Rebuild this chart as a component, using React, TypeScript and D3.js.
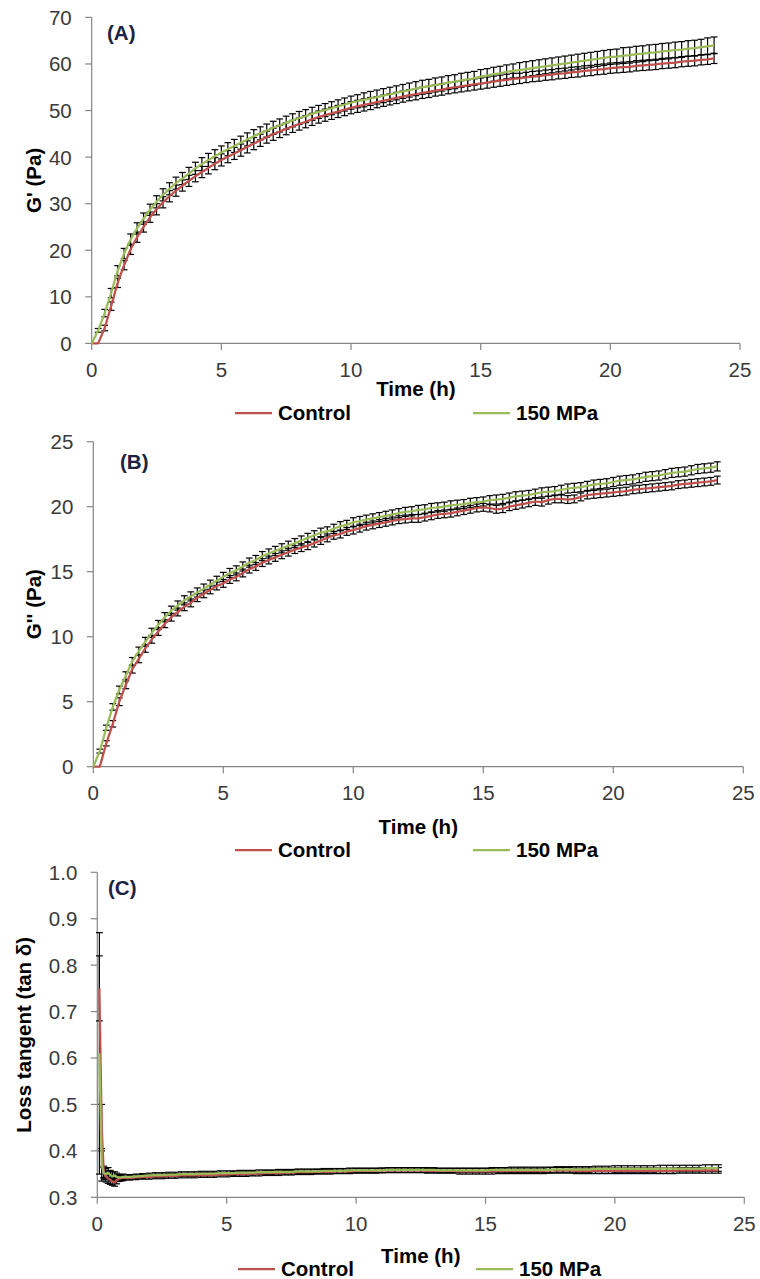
import React from "react";
import * as d3 from "d3";

// ---------- DATA ----------
const TIME = [
  0, 0.25, 0.5, 0.75,
  1, 1.25, 1.5, 1.75,
  2, 2.25, 2.5, 2.75,
  3, 3.25, 3.5, 3.75,
  4, 4.25, 4.5, 4.75,
  5, 5.25, 5.5, 5.75,
  6, 6.25, 6.5, 6.75,
  7, 7.25, 7.5, 7.75,
  8, 8.25, 8.5, 8.75,
  9, 9.25, 9.5, 9.75,
  10, 10.25, 10.5, 10.75,
  11, 11.25, 11.5, 11.75,
  12, 12.25, 12.5, 12.75,
  13, 13.25, 13.5, 13.75,
  14, 14.25, 14.5, 14.75,
  15, 15.25, 15.5, 15.75,
  16, 16.25, 16.5, 16.75,
  17, 17.25, 17.5, 17.75,
  18, 18.25, 18.5, 18.75,
  19, 19.25, 19.5, 19.75,
  20, 20.25, 20.5, 20.75,
  21, 21.25, 21.5, 21.75,
  22, 22.25, 22.5, 22.75,
  23, 23.25, 23.5, 23.75,
  24,
];

// Panel A: G' (Pa)
const A_CONTROL = [
  0, 0, 3.3, 8.0,
  13.0, 16.8, 20.2, 22.8,
  25.0, 27.1, 28.8, 30.3,
  31.6, 32.8, 33.9, 34.9,
  35.9, 36.8, 37.7, 38.6,
  39.4, 40.1, 40.8, 41.5,
  42.2, 42.9, 43.6, 44.3,
  44.9, 45.5, 46.1, 46.6,
  47.1, 47.6, 48.1, 48.6,
  49.0, 49.4, 49.8, 50.2,
  50.6, 50.9, 51.2, 51.5,
  51.8, 52.1, 52.4, 52.7,
  53.0, 53.3, 53.5, 53.8,
  54.0, 54.3, 54.5, 54.8,
  55.0, 55.2, 55.4, 55.6,
  55.8, 56.0, 56.2, 56.4,
  56.6, 56.8, 56.9, 57.1,
  57.3, 57.4, 57.6, 57.7,
  57.9, 58.0, 58.2, 58.3,
  58.5, 58.6, 58.8, 58.9,
  59.1, 59.2, 59.3, 59.4,
  59.6, 59.7, 59.8, 59.9,
  60.1, 60.2, 60.3, 60.5,
  60.6, 60.7, 60.9, 61.0,
  61.2,
];
const A_CONTROL_SD = [
  0, 0, 0.6, 0.9,
  1.0, 1.0, 1.1, 1.1,
  1.1, 1.1, 1.2, 1.2,
  1.2, 1.2, 1.2, 1.2,
  1.2, 1.2, 1.3, 1.3,
  1.3, 1.3, 1.3, 1.3,
  1.3, 1.3, 1.3, 1.3,
  1.3, 1.3, 1.3, 1.3,
  1.3, 1.3, 1.3, 1.3,
  1.3, 1.3, 1.3, 1.3,
  1.3, 1.3, 1.3, 1.3,
  1.2, 1.2, 1.2, 1.2,
  1.2, 1.2, 1.2, 1.2,
  1.2, 1.2, 1.2, 1.2,
  1.2, 1.2, 1.2, 1.2,
  1.2, 1.2, 1.2, 1.2,
  1.2, 1.2, 1.1, 1.1,
  1.1, 1.1, 1.1, 1.1,
  1.1, 1.1, 1.1, 1.1,
  1.1, 1.1, 1.1, 1.1,
  1.1, 1.1, 1.1, 1.1,
  1.1, 1.1, 1.1, 1.1,
  1.1, 1.1, 1.1, 1.1,
  1.1, 1.1, 1.1, 1.1,
  1.1,
];
const A_150 = [
  0, 2.8, 6.5, 10.8,
  15.6, 19.3, 22.3, 24.7,
  26.8, 28.7, 30.4, 31.9,
  33.2, 34.4, 35.4, 36.5,
  37.6, 38.5, 39.4, 40.2,
  41.0, 41.7, 42.4, 43.1,
  43.8, 44.5, 45.1, 45.7,
  46.3, 46.8, 47.4, 47.9,
  48.4, 48.8, 49.3, 49.7,
  50.1, 50.5, 50.9, 51.3,
  51.7, 52.0, 52.3, 52.6,
  52.9, 53.2, 53.5, 53.8,
  54.1, 54.4, 54.7, 55.0,
  55.2, 55.5, 55.7, 56.0,
  56.2, 56.5, 56.7, 56.9,
  57.3, 57.5, 57.8, 58.0,
  58.3, 58.5, 58.7, 58.9,
  59.1, 59.3, 59.5, 59.7,
  59.9, 60.1, 60.3, 60.5,
  60.7, 60.9, 61.1, 61.3,
  61.5, 61.6, 61.8, 61.9,
  62.1, 62.2, 62.4, 62.5,
  62.7, 62.8, 63.0, 63.1,
  63.3, 63.4, 63.6, 63.8,
  64.0,
];
const A_150_SD = [
  0, 0.4, 0.8, 1.0,
  1.1, 1.1, 1.2, 1.2,
  1.2, 1.2, 1.3, 1.3,
  1.3, 1.3, 1.3, 1.3,
  1.3, 1.4, 1.4, 1.4,
  1.4, 1.4, 1.4, 1.4,
  1.4, 1.4, 1.4, 1.4,
  1.4, 1.4, 1.4, 1.4,
  1.4, 1.4, 1.4, 1.4,
  1.4, 1.4, 1.4, 1.4,
  1.4, 1.4, 1.5, 1.5,
  1.5, 1.5, 1.5, 1.5,
  1.5, 1.5, 1.5, 1.5,
  1.5, 1.5, 1.5, 1.5,
  1.5, 1.5, 1.5, 1.5,
  1.5, 1.5, 1.5, 1.5,
  1.5, 1.5, 1.6, 1.6,
  1.6, 1.6, 1.6, 1.6,
  1.6, 1.6, 1.6, 1.6,
  1.6, 1.6, 1.6, 1.6,
  1.6, 1.6, 1.7, 1.7,
  1.7, 1.7, 1.7, 1.7,
  1.7, 1.7, 1.7, 1.7,
  1.7, 1.7, 1.7, 1.8,
  1.8,
];

// Panel B: G'' (Pa)
const B_CONTROL = [
  0, 0, 1.8, 3.3,
  5.0, 6.3, 7.5, 8.3,
  9.1, 9.8, 10.4, 11.0,
  11.5, 11.9, 12.3, 12.6,
  13.0, 13.3, 13.6, 13.9,
  14.1, 14.4, 14.6, 14.9,
  15.2, 15.4, 15.7, 15.9,
  16.1, 16.3, 16.5, 16.7,
  16.85, 17.0, 17.2, 17.4,
  17.6, 17.8, 17.9, 18.1,
  18.2, 18.35, 18.5, 18.6,
  18.7, 18.8, 18.9, 19.0,
  19.05, 19.1, 19.1, 19.2,
  19.3, 19.4, 19.45, 19.5,
  19.6, 19.7, 19.8, 19.9,
  19.95, 19.9, 19.8, 19.85,
  20.0, 20.1, 20.2, 20.3,
  20.4, 20.35, 20.5, 20.6,
  20.6, 20.55, 20.6, 20.75,
  20.9, 20.95, 21.0, 21.05,
  21.1, 21.15, 21.2, 21.3,
  21.35, 21.4, 21.45, 21.5,
  21.55, 21.6, 21.7, 21.75,
  21.8, 21.85, 21.9, 21.95,
  22.05,
];
const B_CONTROL_SD = [
  0, 0, 0.2, 0.25,
  0.3, 0.3, 0.3, 0.3,
  0.3, 0.3, 0.3, 0.3,
  0.3, 0.3, 0.3, 0.3,
  0.3, 0.3, 0.3, 0.3,
  0.3, 0.3, 0.3, 0.3,
  0.3, 0.3, 0.3, 0.3,
  0.3, 0.3, 0.3, 0.3,
  0.3, 0.3, 0.3, 0.3,
  0.3, 0.3, 0.3, 0.3,
  0.3, 0.3, 0.3, 0.3,
  0.3, 0.3, 0.3, 0.3,
  0.3, 0.3, 0.3, 0.3,
  0.3, 0.3, 0.3, 0.3,
  0.3, 0.3, 0.3, 0.3,
  0.3, 0.3, 0.3, 0.3,
  0.3, 0.3, 0.3, 0.3,
  0.3, 0.3, 0.3, 0.3,
  0.3, 0.3, 0.3, 0.3,
  0.3, 0.3, 0.3, 0.3,
  0.3, 0.3, 0.3, 0.3,
  0.3, 0.3, 0.3, 0.3,
  0.3, 0.3, 0.3, 0.3,
  0.3, 0.3, 0.3, 0.3,
  0.3,
];
const B_150 = [
  0, 1.2, 3.0, 4.6,
  5.9, 7.0, 8.1, 8.9,
  9.6, 10.3, 10.9, 11.5,
  12.0, 12.4, 12.8, 13.1,
  13.4, 13.7, 14.0, 14.3,
  14.6, 14.9, 15.1, 15.4,
  15.7, 15.9, 16.2, 16.4,
  16.6, 16.8, 17.0, 17.2,
  17.4, 17.6, 17.8, 18.0,
  18.1, 18.3, 18.5, 18.6,
  18.8, 18.9, 19.0, 19.1,
  19.2, 19.3, 19.4, 19.5,
  19.6, 19.65, 19.75, 19.8,
  19.9, 19.95, 20.0, 20.1,
  20.15, 20.2, 20.3, 20.35,
  20.4, 20.5, 20.55, 20.6,
  20.7, 20.8, 20.85, 20.9,
  21.0, 21.1, 21.15, 21.2,
  21.3, 21.4, 21.45, 21.5,
  21.6, 21.7, 21.75, 21.8,
  21.9, 22.0, 22.05, 22.1,
  22.2, 22.3, 22.35, 22.4,
  22.5, 22.6, 22.65, 22.7,
  22.8, 22.9, 22.95, 23.0,
  23.1,
];
const B_150_SD = [
  0, 0.15, 0.2, 0.25,
  0.3, 0.3, 0.3, 0.3,
  0.35, 0.35, 0.35, 0.35,
  0.35, 0.35, 0.35, 0.35,
  0.35, 0.35, 0.35, 0.35,
  0.35, 0.35, 0.35, 0.35,
  0.35, 0.35, 0.35, 0.35,
  0.35, 0.35, 0.35, 0.35,
  0.35, 0.35, 0.35, 0.35,
  0.35, 0.35, 0.35, 0.35,
  0.35, 0.35, 0.35, 0.35,
  0.35, 0.35, 0.35, 0.35,
  0.35, 0.35, 0.35, 0.35,
  0.35, 0.35, 0.35, 0.35,
  0.35, 0.35, 0.35, 0.35,
  0.35, 0.35, 0.35, 0.35,
  0.35, 0.35, 0.35, 0.35,
  0.35, 0.35, 0.35, 0.35,
  0.35, 0.35, 0.35, 0.35,
  0.35, 0.35, 0.35, 0.35,
  0.35, 0.35, 0.35, 0.35,
  0.35, 0.35, 0.35, 0.35,
  0.35, 0.35, 0.35, 0.35,
  0.35, 0.35, 0.35, 0.35,
  0.35,
];

// Panel C: loss tangent
const C_TIME = [
  0.08, 0.17, 0.25, 0.33, 0.42, 0.5, 0.58, 0.67, 0.75, 0.83, 0.92,
  1, 1.25, 1.5, 1.75,
  2, 2.25, 2.5, 2.75,
  3, 3.25, 3.5, 3.75,
  4, 4.25, 4.5, 4.75,
  5, 5.25, 5.5, 5.75,
  6, 6.25, 6.5, 6.75,
  7, 7.25, 7.5, 7.75,
  8, 8.25, 8.5, 8.75,
  9, 9.25, 9.5, 9.75,
  10, 10.25, 10.5, 10.75,
  11, 11.25, 11.5, 11.75,
  12, 12.25, 12.5, 12.75,
  13, 13.25, 13.5, 13.75,
  14, 14.25, 14.5, 14.75,
  15, 15.25, 15.5, 15.75,
  16, 16.25, 16.5, 16.75,
  17, 17.25, 17.5, 17.75,
  18, 18.25, 18.5, 18.75,
  19, 19.25, 19.5, 19.75,
  20, 20.25, 20.5, 20.75,
  21, 21.25, 21.5, 21.75,
  22, 22.25, 22.5, 22.75,
  23, 23.25, 23.5, 23.75,
  24,
];
const C_CONTROL = [
  0.75, 0.45, 0.355, 0.345, 0.34, 0.338, 0.334, 0.332, 0.337, 0.34, 0.341,
  0.342, 0.342, 0.343, 0.344,
  0.344, 0.345, 0.345, 0.346,
  0.346, 0.347, 0.347, 0.347,
  0.348, 0.348, 0.348, 0.349,
  0.349, 0.350, 0.350, 0.350,
  0.351, 0.351, 0.352, 0.352,
  0.352, 0.353, 0.353, 0.354,
  0.354, 0.354, 0.355, 0.355,
  0.355, 0.356, 0.356, 0.356,
  0.357, 0.357, 0.357, 0.357,
  0.358, 0.358, 0.358, 0.358,
  0.358, 0.358, 0.358, 0.357,
  0.357, 0.357, 0.357, 0.357,
  0.356, 0.356, 0.356, 0.356,
  0.356, 0.356, 0.357, 0.357,
  0.357, 0.357, 0.357, 0.357,
  0.357, 0.357, 0.358, 0.358,
  0.358, 0.358, 0.357, 0.357,
  0.357, 0.357, 0.357, 0.357,
  0.357, 0.357, 0.357, 0.357,
  0.357, 0.357, 0.357, 0.357,
  0.357, 0.357, 0.358, 0.358,
  0.358, 0.358, 0.358, 0.358,
  0.358,
];
const C_CONTROL_SD = [
  0.07, 0.05, 0.012, 0.012, 0.01, 0.01, 0.008, 0.008, 0.008, 0.006, 0.006,
  0.006, 0.005, 0.005, 0.005,
  0.005, 0.005, 0.005, 0.005,
  0.005, 0.005, 0.005, 0.005,
  0.005, 0.005, 0.005, 0.005,
  0.005, 0.005, 0.005, 0.005,
  0.005, 0.005, 0.005, 0.005,
  0.005, 0.005, 0.005, 0.005,
  0.005, 0.005, 0.005, 0.005,
  0.005, 0.005, 0.005, 0.005,
  0.005, 0.005, 0.005, 0.005,
  0.005, 0.005, 0.005, 0.005,
  0.005, 0.005, 0.005, 0.005,
  0.005, 0.005, 0.005, 0.005,
  0.006, 0.006, 0.006, 0.006,
  0.006, 0.006, 0.006, 0.006,
  0.006, 0.006, 0.006, 0.006,
  0.006, 0.006, 0.006, 0.006,
  0.006, 0.006, 0.006, 0.006,
  0.006, 0.006, 0.006, 0.006,
  0.006, 0.006, 0.006, 0.006,
  0.006, 0.006, 0.006, 0.006,
  0.006, 0.006, 0.006, 0.006,
  0.006, 0.006, 0.006, 0.006,
  0.006,
];
const C_150 = [
  0.61, 0.37, 0.352, 0.35, 0.352, 0.348, 0.345, 0.347, 0.344, 0.343, 0.343,
  0.344, 0.344, 0.345, 0.346,
  0.347, 0.348, 0.348, 0.349,
  0.349, 0.350, 0.350, 0.350,
  0.351, 0.351, 0.351, 0.352,
  0.352, 0.352, 0.353, 0.353,
  0.353, 0.354, 0.354, 0.354,
  0.355, 0.355, 0.355, 0.356,
  0.356, 0.356, 0.356, 0.357,
  0.357, 0.357, 0.357, 0.358,
  0.358, 0.358, 0.358, 0.358,
  0.358, 0.359, 0.359, 0.359,
  0.359, 0.359, 0.359, 0.359,
  0.359, 0.358, 0.358, 0.358,
  0.358, 0.358, 0.358, 0.358,
  0.358, 0.359, 0.359, 0.359,
  0.359, 0.359, 0.359, 0.359,
  0.359, 0.359, 0.359, 0.360,
  0.360, 0.360, 0.360, 0.360,
  0.360, 0.361, 0.361, 0.361,
  0.361, 0.361, 0.361, 0.361,
  0.361, 0.361, 0.361, 0.362,
  0.362, 0.362, 0.362, 0.362,
  0.362, 0.362, 0.363, 0.363,
  0.363,
];
const C_150_SD = [
  0.26, 0.035, 0.012, 0.012, 0.012, 0.01, 0.01, 0.008, 0.008, 0.006, 0.006,
  0.006, 0.005, 0.005, 0.005,
  0.005, 0.005, 0.005, 0.005,
  0.005, 0.005, 0.005, 0.005,
  0.005, 0.005, 0.005, 0.005,
  0.005, 0.005, 0.005, 0.005,
  0.005, 0.005, 0.005, 0.005,
  0.005, 0.005, 0.005, 0.005,
  0.005, 0.005, 0.005, 0.005,
  0.005, 0.005, 0.005, 0.005,
  0.005, 0.005, 0.005, 0.005,
  0.005, 0.005, 0.005, 0.005,
  0.005, 0.005, 0.005, 0.005,
  0.005, 0.005, 0.005, 0.005,
  0.005, 0.005, 0.005, 0.005,
  0.005, 0.005, 0.005, 0.005,
  0.006, 0.006, 0.006, 0.006,
  0.006, 0.006, 0.006, 0.006,
  0.006, 0.006, 0.006, 0.006,
  0.006, 0.006, 0.006, 0.006,
  0.007, 0.007, 0.007, 0.007,
  0.007, 0.007, 0.007, 0.007,
  0.007, 0.007, 0.007, 0.007,
  0.007, 0.007, 0.007, 0.007,
  0.007,
];

const X_TICKS = [0, 5, 10, 15, 20, 25];
const A_Y_TICKS = [0, 10, 20, 30, 40, 50, 60, 70];
const B_Y_TICKS = [0, 5, 10, 15, 20, 25];
const C_Y_TICKS = [0.3, 0.4, 0.5, 0.6, 0.7, 0.8, 0.9, 1.0];
const SERIES_NAMES = ["Control", "150 MPa"];
const X_TITLE = "Time (h)";

// ---------- STYLE ----------
const RED = "#C0504D";
const GREEN = "#9BBB59";
const AXIS = "#868686";
const FONT = "'Liberation Sans', Arial, Helvetica, sans-serif";

type Series = { times: number[]; values: number[]; sd: number[]; color: string };

type PanelCfg = {
  xRange: [number, number];
  yDomain: [number, number];
  yRange: [number, number];
  yTicks: number[];
  yFmt: (v: number) => string;
  yTitle: string;
  yTitleX: number;
  label: string;
  labelX: number;
  labelY: number;
  xTitleY: number;
  legendY: number;
  legendDX: number;
  series: Series[];
};

function Panel({ cfg }: { cfg: PanelCfg }) {
  const x = d3.scaleLinear().domain([0, 25]).range(cfg.xRange);
  const y = d3.scaleLinear().domain(cfg.yDomain).range(cfg.yRange);
  const x0 = cfg.xRange[0];
  const yBase = cfg.yRange[0];
  const yTop = cfg.yRange[1];
  const xMid = (cfg.xRange[0] + cfg.xRange[1]) / 2;
  const yMid = (cfg.yRange[0] + cfg.yRange[1]) / 2;
  const pathFor = (s: Series) =>
    d3
      .line<number>()
      .x((_, i) => x(s.times[i]))
      .y((v) => y(v))(s.values) || "";
  const cap = 3.4;
  return (
    <g>
      {/* axes */}
      <line x1={x0} x2={x0} y1={yBase} y2={yTop} stroke={AXIS} strokeWidth={1.2} />
      <line x1={x0} x2={cfg.xRange[1]} y1={yBase} y2={yBase} stroke={AXIS} strokeWidth={1.2} />
      {cfg.yTicks.map((t) => (
        <g key={"yt" + t}>
          <line x1={x0 - 6.5} x2={x0} y1={y(t)} y2={y(t)} stroke={AXIS} strokeWidth={1.2} />
          <text
            x={x0 - 20}
            y={y(t) + 7.4}
            textAnchor="end"
            fontFamily={FONT}
            fontSize={20.5}
            fill="#3a3a3a"
          >
            {cfg.yFmt(t)}
          </text>
        </g>
      ))}
      {X_TICKS.map((t) => (
        <g key={"xt" + t}>
          <line x1={x(t)} x2={x(t)} y1={yBase} y2={yBase + 6.5} stroke={AXIS} strokeWidth={1.2} />
          <text
            x={x(t)}
            y={yBase + 33.5}
            textAnchor="middle"
            fontFamily={FONT}
            fontSize={20.5}
            fill="#3a3a3a"
          >
            {t}
          </text>
        </g>
      ))}
      {/* error bars */}
      {cfg.series.map((s, si) => (
        <g key={"eb" + si} stroke="#000" strokeWidth={1.2}>
          {s.values.map((v, i) => {
            const e = s.sd[i];
            if (!e) return null;
            const px = x(s.times[i]);
            const yl = y(v - e);
            const yh = y(v + e);
            return (
              <g key={i}>
                <line x1={px} x2={px} y1={yl} y2={yh} />
                <line x1={px - cap} x2={px + cap} y1={yl} y2={yl} />
                <line x1={px - cap} x2={px + cap} y1={yh} y2={yh} />
              </g>
            );
          })}
        </g>
      ))}
      {/* lines */}
      {cfg.series.map((s, si) => (
        <path key={"ln" + si} d={pathFor(s)} fill="none" stroke={s.color} strokeWidth={2.25} strokeLinejoin="round" />
      ))}
      {/* titles */}
      <text
        x={xMid}
        y={cfg.xTitleY}
        textAnchor="middle"
        fontFamily={FONT}
        fontSize={20.5}
        fontWeight="bold"
        fill="#000"
      >
        {X_TITLE}
      </text>
      <text
        transform={`translate(${cfg.yTitleX},${yMid}) rotate(-90)`}
        textAnchor="middle"
        fontFamily={FONT}
        fontSize={20.5}
        fontWeight="bold"
        fill="#000"
      >
        {cfg.yTitle}
      </text>
      <text
        x={cfg.labelX}
        y={cfg.labelY}
        fontFamily={FONT}
        fontSize={20.5}
        fontWeight="bold"
        fill="#1c2340"
      >
        {cfg.label}
      </text>
      {/* legend */}
      {SERIES_NAMES.map((n, i) => {
        const lx = 235 + cfg.legendDX + i * 238;
        return (
          <g key={"lg" + i}>
            <line
              x1={lx}
              x2={lx + 37}
              y1={cfg.legendY}
              y2={cfg.legendY}
              stroke={cfg.series[i].color}
              strokeWidth={2.25}
            />
            <text
              x={lx + 43}
              y={cfg.legendY + 7.4}
              fontFamily={FONT}
              fontSize={20.5}
              fontWeight="bold"
              fill="#000"
            >
              {n}
            </text>
          </g>
        );
      })}
    </g>
  );
}

const fmtInt = (v: number) => d3.format("d")(v);
const fmt1 = (v: number) => d3.format(".1f")(v);

export default function App() {
  const panels: PanelCfg[] = [
    {
      xRange: [91.7, 740],
      yDomain: [0, 70],
      yRange: [343.4, 17.4],
      yTicks: A_Y_TICKS,
      yFmt: fmtInt,
      yTitle: "G' (Pa)",
      yTitleX: 41,
      label: "(A)",
      labelX: 107,
      labelY: 39.5,
      xTitleY: 396,
      legendY: 413,
      legendDX: 0,
      series: [
        { times: TIME, values: A_CONTROL, sd: A_CONTROL_SD, color: RED },
        { times: TIME, values: A_150, sd: A_150_SD, color: GREEN },
      ],
    },
    {
      xRange: [93.3, 743.3],
      yDomain: [0, 25],
      yRange: [766.7, 441.7],
      yTicks: B_Y_TICKS,
      yFmt: fmtInt,
      yTitle: "G'' (Pa)",
      yTitleX: 41,
      label: "(B)",
      labelX: 120,
      labelY: 469,
      xTitleY: 834,
      legendY: 850,
      legendDX: 0,
      series: [
        { times: TIME, values: B_CONTROL, sd: B_CONTROL_SD, color: RED },
        { times: TIME, values: B_150, sd: B_150_SD, color: GREEN },
      ],
    },
    {
      xRange: [97.3, 744.3],
      yDomain: [0.3, 1.0],
      yRange: [1197.3, 872.3],
      yTicks: C_Y_TICKS,
      yFmt: fmt1,
      yTitle: "Loss tangent (tan δ)",
      yTitleX: 31,
      label: "(C)",
      labelX: 108,
      labelY: 895,
      xTitleY: 1263,
      legendY: 1269,
      legendDX: 3,
      series: [
        { times: C_TIME, values: C_CONTROL, sd: C_CONTROL_SD, color: RED },
        { times: C_TIME, values: C_150, sd: C_150_SD, color: GREEN },
      ],
    },
  ];
  return (
    <svg
      width={760}
      height={1279}
      viewBox="0 0 760 1279"
      style={{ position: "absolute", left: 0, top: 0, display: "block", background: "#fff" }}
    >
      <rect x={0} y={0} width={760} height={1279} fill="#fff" />
      {panels.map((p, i) => (
        <Panel key={i} cfg={p} />
      ))}
    </svg>
  );
}
